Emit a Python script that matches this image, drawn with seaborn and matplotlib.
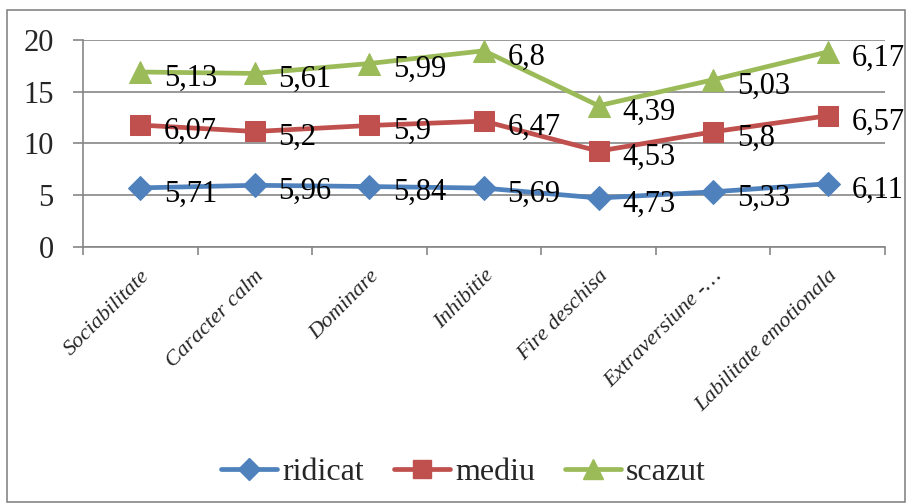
import numpy as np
import pandas as pd
import matplotlib
matplotlib.use("Agg")
import matplotlib.pyplot as plt
from matplotlib.patches import Rectangle
from matplotlib.lines import Line2D
import seaborn as sns

categories = ["Sociabilitate", "Caracter calm", "Dominare", "Inhibitie",
              "Fire deschisa", "Extraversiune -…", "Labilitate emotionala"]
ridicat = [5.71, 5.96, 5.84, 5.69, 4.73, 5.33, 6.11]
mediu = [6.07, 5.2, 5.9, 6.47, 4.53, 5.8, 6.57]
scazut = [5.13, 5.61, 5.99, 6.8, 4.39, 5.03, 6.17]
series_names = ["ridicat", "mediu", "scazut"]
y_ticks = [0, 5, 10, 15, 20]

colors = {"ridicat": "#4F81BD", "mediu": "#C0504D", "scazut": "#9BBB59"}
markers = {"ridicat": "D", "mediu": "s", "scazut": "^"}
msizes = {"ridicat": 12, "mediu": 14.5, "scazut": 15.5}

sns.set_theme(style="white")
plt.rcParams["font.family"] = ["Liberation Serif", "DejaVu Serif"]

# stacked line chart: each series sits on top of the previous ones
vals = np.array([ridicat, mediu, scazut])
stacked = np.cumsum(vals, axis=0)
rows = []
for i, name in enumerate(series_names):
    for j, cat in enumerate(categories):
        rows.append({"cat": cat, "x": j, "series": name,
                     "value": vals[i, j], "stacked": stacked[i, j]})
df = pd.DataFrame(rows)

fig = plt.figure(figsize=(9.09, 5.04), dpi=100)
ax = fig.add_axes([0.0913, 0.51, 0.8823, 0.4106])

for name in series_names:
    sub = df[df["series"] == name]
    sns.lineplot(data=sub, x="x", y="stacked", ax=ax, color=colors[name],
                 linewidth=3.4, marker=markers[name], markersize=msizes[name],
                 markeredgecolor=colors[name], legend=False, zorder=3)
    for _, r in sub.iterrows():
        ax.annotate(f"{r['value']:g}".replace(".", ","), (r["x"], r["stacked"]),
                    xytext=(17, -4.5), textcoords="offset points",
                    ha="left", va="center", fontsize=22, color="black", zorder=4)

ax.set_xlim(-0.5, len(categories) - 0.5)
ax.set_ylim(0, 20)
ax.set_yticks(y_ticks)
ax.set_yticklabels([str(t) for t in y_ticks], fontsize=22)
ax.yaxis.grid(True, color="#868686", linewidth=1.2)
ax.set_axisbelow(True)

ax.set_xticks(range(len(categories)))
ax.set_xticklabels(categories, rotation=45, ha="right", rotation_mode="anchor",
                   fontsize=16, style="italic")
ax.set_xticks(np.arange(-0.5, len(categories), 1.0), minor=True)
ax.tick_params(axis="x", which="major", length=0, pad=14)
ax.tick_params(axis="x", which="minor", length=6, color="#868686", width=1.2,
               direction="out", bottom=True)
ax.tick_params(axis="y", which="major", length=7, color="#868686", width=1.2,
               direction="out", left=True, pad=14)
ax.set_xlabel("")
ax.set_ylabel("")
for s in ["top", "right"]:
    ax.spines[s].set_visible(False)
for s in ["left", "bottom"]:
    ax.spines[s].set_color("#868686")
    ax.spines[s].set_linewidth(1.2)

handles = [Line2D([0], [0], color=colors[n], linewidth=3.4, marker=markers[n],
                  markersize=msizes[n] * 0.9, markeredgecolor=colors[n])
           for n in series_names]
fig.legend(handles, series_names, loc="center", bbox_to_anchor=(0.51, 0.063),
           ncol=3, frameon=False, fontsize=23, handlelength=1.75,
           handletextpad=0.15, columnspacing=0.95, borderpad=0.2)

fig.add_artist(Rectangle((7 / 909, 2 / 504), 898 / 909, 492 / 504,
                         transform=fig.transFigure, fill=False,
                         edgecolor="#868686", linewidth=1.2))

fig.savefig("out.png", dpi=100)
